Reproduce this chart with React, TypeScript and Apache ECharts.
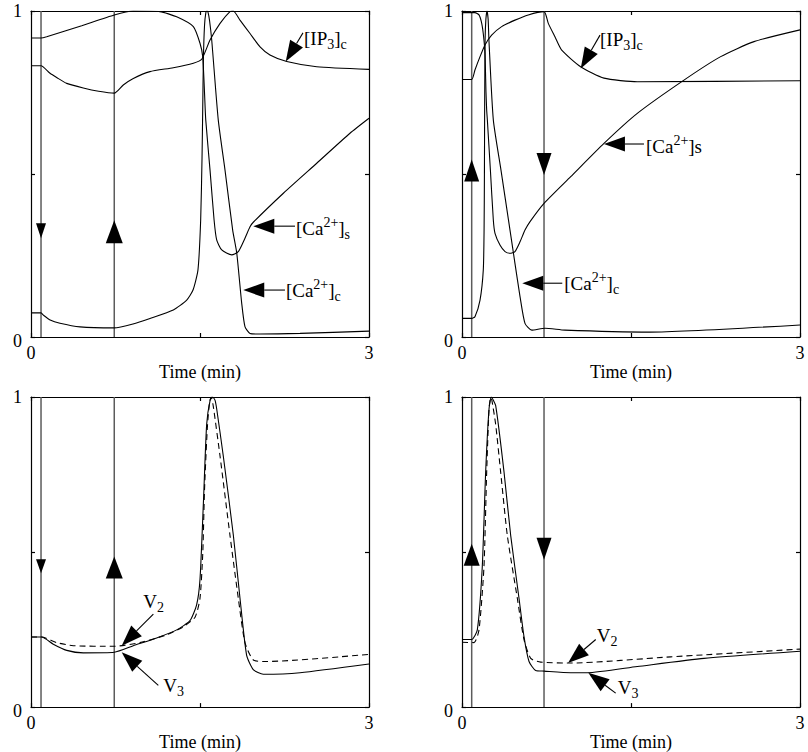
import React, { useEffect, useRef } from 'react';
import * as echarts from 'echarts';

const FONT = '"Liberation Serif", "Times New Roman", Times, serif';

// ---------- data (time in min, normalised value) ----------
const p1IP3 = [
  [0, 0.832], [0.089, 0.832], [0.169, 0.809], [0.228, 0.796], [0.317, 0.778], [0.464, 0.764], [0.6, 0.754], [0.739, 0.748],
  [0.819, 0.773], [0.908, 0.793], [1.056, 0.814], [1.263, 0.826], [1.441, 0.840], [1.515, 0.852],
  [1.589, 0.911], [1.678, 0.962], [1.766, 0.998], [1.796, 1.0], [1.855, 0.972], [1.944, 0.931],
  [2.033, 0.890], [2.121, 0.865], [2.27, 0.845], [2.536, 0.829], [3.0, 0.821],
];
const p1CaS = [
  [0, 0.917], [0.089, 0.917], [0.139, 0.921], [0.45, 0.955], [0.739, 0.988], [0.908, 1.0], [1.145, 0.998],
  [1.293, 0.982], [1.441, 0.952], [1.5, 0.901], [1.524, 0.86], [1.54, 0.75], [1.551, 0.666],
  [1.589, 0.512], [1.625, 0.359], [1.648, 0.298], [1.693, 0.267], [1.781, 0.252], [1.840, 0.262],
  [1.899, 0.303], [1.944, 0.338], [1.973, 0.352], [2.240, 0.441], [2.536, 0.533], [2.831, 0.625], [3.0, 0.671],
];
const p1CaC = [
  [0, 0.074], [0.089, 0.074], [0.11, 0.067], [0.17, 0.052], [0.257, 0.042], [0.435, 0.031], [0.737, 0.028],
  [0.905, 0.040], [1.056, 0.057], [1.263, 0.083], [1.382, 0.113], [1.438, 0.144], [1.482, 0.206],
  [1.506, 0.359], [1.518, 0.55], [1.524, 0.696], [1.53, 0.85], [1.54, 0.955], [1.552, 0.995], [1.562, 1.0],
  [1.572, 0.995], [1.585, 0.97], [1.604, 0.911], [1.662, 0.666], [1.722, 0.512], [1.790, 0.328],
  [1.826, 0.258], [1.870, 0.104], [1.899, 0.032], [1.944, 0.011], [2.033, 0.009], [2.388, 0.011], [3.0, 0.018],
];

const p2IP3 = [
  [0, 0.790], [0.086, 0.790], [0.115, 0.819], [0.160, 0.860], [0.204, 0.896], [0.263, 0.926], [0.352, 0.952],
  [0.470, 0.972], [0.588, 0.988], [0.728, 0.998], [0.766, 0.962], [0.825, 0.921], [0.885, 0.880],
  [1.053, 0.829], [1.260, 0.794], [1.556, 0.783], [3.0, 0.786],
];
const p2CaS = [
  [0, 0.995], [0.086, 0.995], [0.115, 0.995], [0.151, 0.988], [0.175, 0.962], [0.192, 0.921], [0.204, 0.870],
  [0.213, 0.75], [0.219, 0.696], [0.225, 0.666], [0.252, 0.512], [0.278, 0.359], [0.293, 0.318],
  [0.337, 0.282], [0.382, 0.262], [0.426, 0.257], [0.470, 0.262], [0.515, 0.292], [0.559, 0.328],
  [0.604, 0.354], [0.728, 0.410], [0.965, 0.492], [1.260, 0.594], [1.556, 0.686], [1.970, 0.788],
  [2.296, 0.860], [2.592, 0.906], [3.0, 0.942],
];
const p2CaC = [
  [0, 0.057], [0.086, 0.057], [0.115, 0.062], [0.160, 0.113], [0.189, 0.206], [0.196, 0.328], [0.199, 0.5],
  [0.201, 0.696], [0.205, 0.911], [0.212, 0.975], [0.222, 1.0], [0.232, 0.975], [0.239, 0.911],
  [0.278, 0.666], [0.346, 0.512], [0.426, 0.328], [0.470, 0.226], [0.515, 0.124], [0.559, 0.042],
  [0.619, 0.021], [0.737, 0.027], [0.914, 0.021], [1.669, 0.015], [3.0, 0.037],
];

const p3V3 = [
  [0, 0.226], [0.095, 0.226], [0.198, 0.203], [0.317, 0.183], [0.464, 0.175], [0.739, 0.177], [0.908, 0.198],
  [1.115, 0.223], [1.293, 0.249], [1.411, 0.279], [1.470, 0.330], [1.5, 0.412], [1.530, 0.657],
  [1.559, 0.911], [1.590, 0.99], [1.612, 1.0], [1.633, 0.99], [1.648, 0.962], [1.707, 0.809],
  [1.796, 0.554], [1.855, 0.351], [1.914, 0.167], [1.973, 0.121], [2.062, 0.106], [2.388, 0.111], [3.0, 0.139],
];
const p3V2 = [
  [0, 0.226], [0.095, 0.226], [0.228, 0.208], [0.375, 0.198], [0.739, 0.196], [0.967, 0.208], [1.204, 0.233],
  [1.352, 0.259], [1.456, 0.290], [1.5, 0.351], [1.525, 0.5], [1.54, 0.7], [1.565, 0.9], [1.585, 0.985],
  [1.600, 1.0], [1.618, 0.97], [1.678, 0.809], [1.766, 0.554], [1.840, 0.351], [1.899, 0.208],
  [1.973, 0.152], [2.092, 0.147], [3.0, 0.170],
];

const p4V3 = [
  [0, 0.218], [0.086, 0.218], [0.136, 0.249], [0.180, 0.453], [0.210, 0.758], [0.240, 0.962], [0.260, 1.0],
  [0.299, 0.972], [0.373, 0.758], [0.432, 0.554], [0.506, 0.351], [0.550, 0.228], [0.595, 0.147],
  [0.654, 0.118], [0.728, 0.116], [0.965, 0.111], [1.112, 0.111], [1.556, 0.131], [2.148, 0.157], [3.0, 0.180],
];
const p4V2 = [
  [0, 0.209], [0.107, 0.208], [0.151, 0.249], [0.195, 0.453], [0.219, 0.758], [0.240, 0.962], [0.255, 0.998],
  [0.265, 0.99], [0.299, 0.911], [0.343, 0.758], [0.402, 0.554], [0.491, 0.351], [0.550, 0.218],
  [0.610, 0.157], [0.698, 0.145], [0.965, 0.142], [1.852, 0.162], [3.0, 0.187],
];

// stimulus switching times (vertical lines)
const stimLeft = [0.089, 0.739];
const stimRight = [0.086, 0.728];

// tick labels
const xTickLabels: Record<string, string> = { '0': '0', '3': '3' };
const yTickLabels: Record<string, string> = { '0': '{z|0}', '1': '1' };
const xName = 'Time (min)';

// ---------- layout ----------
const grids = [
  { left: 31, top: 11, width: 338, height: 326 },
  { left: 462, top: 11, width: 338, height: 326 },
  { left: 31, top: 397, width: 338, height: 327 },
  { left: 462, top: 397, width: 338, height: 327 },
];

const stimArrows = [
  [{ t: stimLeft[0], y: 0.326, dir: 'down', size: [10, 15] }, { t: stimLeft[1], y: 0.323, dir: 'up', size: [17, 23] }],
  [{ t: stimRight[0], y: 0.511, dir: 'up', size: [15, 22] }, { t: stimRight[1], y: 0.531, dir: 'down', size: [15, 22] }],
  [{ t: stimLeft[0], y: 0.454, dir: 'down', size: [10, 14] }, { t: stimLeft[1], y: 0.450, dir: 'up', size: [17, 22] }],
  [{ t: stimRight[0], y: 0.491, dir: 'up', size: [16, 22] }, { t: stimRight[1], y: 0.511, dir: 'down', size: [15, 22] }],
];

const IP3 = '{n|[IP}{sub|3}{n|]}{sub|c}';
const CAS = '{n|[Ca}{sup|2+}{n|]}{sub|s}';
const CAS2 = '{n|[Ca}{sup|2+}{n|]s}';
const CAC = '{n|[Ca}{sup|2+}{n|]}{sub|c}';
const V2 = '{n|V}{sub|2}';
const V3 = '{n|V}{sub|3}';

const annotations = [
  { g: 0, tip: [2.261, 0.845], tail: [2.414, 0.933], text: IP3, dx: 1, dy: 6 },
  { g: 0, tip: [1.973, 0.340], tail: [2.343, 0.340], text: CAS, dx: 1, dy: 2 },
  { g: 0, tip: [1.884, 0.144], tail: [2.254, 0.144], text: CAC, dx: 1, dy: 0 },
  { g: 1, tip: [1.054, 0.824], tail: [1.225, 0.926], text: IP3, dx: 0, dy: 4 },
  { g: 1, tip: [1.260, 0.592], tail: [1.615, 0.592], text: CAS2, dx: 2, dy: 2 },
  { g: 1, tip: [0.535, 0.165], tail: [0.890, 0.165], text: CAC, dx: 2, dy: 0 },
  { g: 2, tip: [0.805, 0.198], tail: [1.086, 0.300], text: V2, dx: -10, dy: -13 },
  { g: 2, tip: [0.805, 0.177], tail: [1.130, 0.070], text: V3, dx: 5, dy: 0 },
  { g: 3, tip: [0.941, 0.142], tail: [1.187, 0.218], text: V2, dx: 1, dy: -4 },
  { g: 3, tip: [1.121, 0.111], tail: [1.364, 0.045], text: V3, dx: 2, dy: -6 },
];

const AXIS_LINE = { show: true, onZero: false, lineStyle: { color: '#000', width: 1.2 } };
const TICK = { show: true, inside: true, length: 4, lineStyle: { color: '#000', width: 1.2 } };
const AX_FONT = 18;

function buildOption() {
  const xAxis: any[] = [];
  const yAxis: any[] = [];
  grids.forEach((_, g) => {
    xAxis.push({
      type: 'value', gridIndex: g, min: 0, max: 3, interval: 1.5, position: 'bottom',
      axisLine: AXIS_LINE, axisTick: TICK, splitLine: { show: false },
      axisLabel: {
        margin: 7, color: '#000', fontFamily: FONT, fontSize: AX_FONT,
        formatter: (v: number) => xTickLabels[String(v)] ?? '',
      },
      name: xName, nameLocation: 'middle', nameGap: 7,
      nameTextStyle: { color: '#000', fontFamily: FONT, fontSize: AX_FONT },
    });
    xAxis.push({
      type: 'value', gridIndex: g, min: 0, max: 3, interval: 1.5, position: 'top',
      axisLine: AXIS_LINE, axisTick: TICK, splitLine: { show: false }, axisLabel: { show: false },
    });
    yAxis.push({
      type: 'value', gridIndex: g, min: 0, max: 1, interval: 0.5, position: 'left',
      axisLine: AXIS_LINE, axisTick: TICK, splitLine: { show: false },
      axisLabel: {
        margin: 9, color: '#000', fontFamily: FONT, fontSize: AX_FONT,
        formatter: (v: number) => yTickLabels[String(v)] ?? '',
        rich: { z: { fontFamily: FONT, fontSize: AX_FONT, color: '#000', padding: [8, 0, 0, 0] } },
      },
    });
    yAxis.push({
      type: 'value', gridIndex: g, min: 0, max: 1, interval: 0.5, position: 'right',
      axisLine: AXIS_LINE, axisTick: TICK, splitLine: { show: false }, axisLabel: { show: false },
    });
  });

  const curve = (g: number, data: number[][], dashed = false) => ({
    type: 'line', xAxisIndex: 2 * g, yAxisIndex: 2 * g, data, symbol: 'none', showSymbol: false,
    smooth: 0.2, silent: true, z: 3,
    lineStyle: { color: '#000', width: 1.1, type: dashed ? [6, 4] : 'solid' },
  });
  const stim = (g: number, a: any) => ({
    type: 'line', xAxisIndex: 2 * g, yAxisIndex: 2 * g, data: [[a.t, 0], [a.t, 1]], symbol: 'none',
    silent: true, z: 2, lineStyle: { color: '#5c5c5c', width: 1.5 },
    markPoint: {
      silent: true, symbol: 'triangle', symbolSize: a.size, symbolRotate: a.dir === 'down' ? 180 : 0,
      itemStyle: { color: '#000' }, label: { show: false }, data: [{ coord: [a.t, a.y] }],
    },
  });

  const series: any[] = [];
  stimArrows.forEach((arr, g) => arr.forEach((a) => series.push(stim(g, a))));
  series.push(curve(0, p1IP3), curve(0, p1CaS), curve(0, p1CaC));
  series.push(curve(1, p2IP3), curve(1, p2CaS), curve(1, p2CaC));
  series.push(curve(2, p3V3), curve(2, p3V2, true));
  series.push(curve(3, p4V3), curve(3, p4V2, true));

  return {
    animation: false,
    backgroundColor: '#fff',
    textStyle: { fontFamily: FONT },
    grid: grids.map((gr) => ({ ...gr, containLabel: false })),
    xAxis, yAxis, series,
  };
}

const RICH = {
  n: { fontFamily: FONT, fontSize: 19, fill: '#000', lineHeight: 26 },
  sub: { fontFamily: FONT, fontSize: 14, fill: '#000', lineHeight: 26, verticalAlign: 'bottom' },
  sup: { fontFamily: FONT, fontSize: 14, fill: '#000', lineHeight: 26, verticalAlign: 'top' },
};

export default function App() {
  const ref = useRef<HTMLDivElement>(null);
  useEffect(() => {
    document.body.style.margin = '0';
    const chart = echarts.init(ref.current!, null, { renderer: 'svg' });
    chart.setOption(buildOption() as any);

    const graphic: any[] = [];
    annotations.forEach((a) => {
      const finder = { xAxisIndex: 2 * a.g, yAxisIndex: 2 * a.g };
      const tip = chart.convertToPixel(finder as any, a.tip) as number[];
      const tail = chart.convertToPixel(finder as any, a.tail) as number[];
      const dxv = tip[0] - tail[0];
      const dyv = tip[1] - tail[1];
      const len = Math.sqrt(dxv * dxv + dyv * dyv) || 1;
      const ux = dxv / len, uy = dyv / len;
      const L = 21, W = 7.5;
      const bx = tip[0] - ux * L, by = tip[1] - uy * L;
      const px = -uy, py = ux;
      graphic.push({
        type: 'line', silent: true, z: 10,
        shape: { x1: tail[0], y1: tail[1], x2: bx, y2: by },
        style: { stroke: '#000', lineWidth: 1.1 },
      });
      graphic.push({
        type: 'polygon', silent: true, z: 10,
        shape: { points: [[tip[0], tip[1]], [bx + px * W, by + py * W], [bx - px * W, by - py * W]] },
        style: { fill: '#000' },
      });
      graphic.push({
        type: 'text', silent: true, z: 10,
        x: tail[0] + a.dx, y: tail[1] + a.dy,
        style: {
          text: a.text, rich: RICH, align: 'left', verticalAlign: 'middle',
          fontFamily: FONT, fontSize: 19, fill: '#000',
        },
      });
    });
    chart.setOption({ graphic });
    return () => chart.dispose();
  }, []);
  return <div ref={ref} style={{ width: 808, height: 752 }} />;
}
